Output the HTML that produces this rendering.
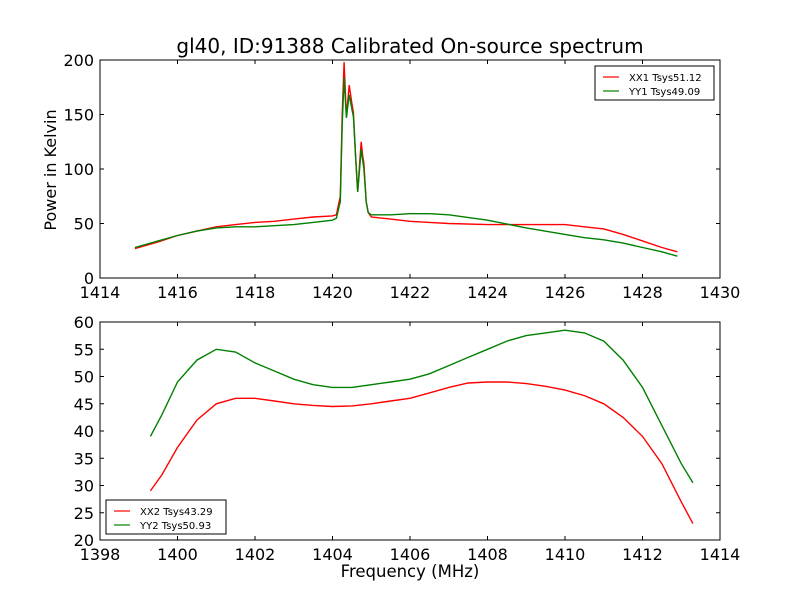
<!DOCTYPE html>
<html><head><meta charset="utf-8"><style>
body{margin:0;background:#fff;}
svg{font-family:"DejaVu Sans","Liberation Sans",sans-serif;}
</style></head><body>
<svg id="chart" width="800" height="600" xmlns="http://www.w3.org/2000/svg">
<rect width="800" height="600" fill="#fff"/>
<text x="410" y="53" font-size="20" text-anchor="middle">gl40, ID:91388 Calibrated On-source spectrum</text>
<text x="56" y="170" font-size="16" text-anchor="middle" transform="rotate(-90 56 170)">Power in Kelvin</text>
<text x="410" y="577" font-size="16.5" text-anchor="middle">Frequency (MHz)</text>
<g id="top"></g><g id="bot"></g>
</svg>
<script>
const topX=[1414.9,1415.5,1416,1416.5,1417,1417.5,1418,1418.5,1419,1419.5,1420,1420.1,1420.2,1420.25,1420.3,1420.36,1420.43,1420.5,1420.54,1420.6,1420.65,1420.7,1420.74,1420.78,1420.81,1420.87,1420.92,1421,1421.5,1422,1422.5,1423,1424,1425,1426,1426.5,1427,1427.5,1428,1428.5,1428.9];
const xx1=[27,33,39,43,47,49,51,52,54,56,57,58,75,150,198,148,177,160,152,110,79,105,125,112,105,70,60,56,54,52,51,50,49,49,49,47,45,40,34,28,24];
const yy1=[28,34,39,43,46,47,47,48,49,51,53,55,70,140,184,147,168,155,148,110,79,100,118,108,100,70,60,58,58,59,59,58,53,46,40,37,35,32,28,24,20];
const botX=[1399.3,1399.6,1400,1400.5,1401,1401.5,1402,1402.5,1403,1403.5,1404,1404.5,1405,1405.5,1406,1406.5,1407,1407.5,1408,1408.5,1409,1409.5,1410,1410.5,1411,1411.5,1412,1412.5,1413,1413.3];
const xx2=[29,32,37,42,45,46,46,45.5,45,44.7,44.5,44.6,45,45.5,46,47,48,48.8,49,49,48.7,48.2,47.5,46.5,45,42.5,39,34,27,23];
const yy2=[39,43,49,53,55,54.5,52.5,51,49.5,48.5,48,48,48.5,49,49.5,50.5,52,53.5,55,56.5,57.5,58,58.5,58,56.5,53,48,41,34,30.5];
const topXTicks=[1414,1416,1418,1420,1422,1424,1426,1428,1430];
const topYTicks=[0,50,100,150,200];
const botXTicks=[1398,1400,1402,1404,1406,1408,1410,1412,1414];
const botYTicks=[20,25,30,35,40,45,50,55,60];
const NS="http://www.w3.org/2000/svg";
function mk(p,t,a){const e=document.createElementNS(NS,t);for(const k in a)e.setAttribute(k,a[k]);p.appendChild(e);return e;}
function panel(g,box,xd,yd,xt,yt,series,leg,name){
 const sx=v=>box.x+(v-xd[0])/(xd[1]-xd[0])*box.w;
 const sy=v=>box.y+box.h-(v-yd[0])/(yd[1]-yd[0])*box.h;
 series.forEach(s=>{
  const pl=mk(g,'polyline',{points:s.ys.map((v,i)=>sx(s.xs[i]).toFixed(1)+','+sy(v).toFixed(1)).join(' '),fill:'none',stroke:s.c,'stroke-width':1.4});
  
  
 });
 const fr=mk(g,'rect',{x:box.x,y:box.y,width:box.w,height:box.h,fill:'none',stroke:'#000','stroke-width':1});
 
 
 xt.forEach(v=>{const X=sx(v);
  mk(g,'line',{x1:X,x2:X,y1:box.y+box.h,y2:box.y+box.h-4,stroke:'#000'});
  mk(g,'line',{x1:X,x2:X,y1:box.y,y2:box.y+4,stroke:'#000'});
  const t=mk(g,'text',{x:X,y:box.y+box.h+20,'font-size':16,'text-anchor':'middle'});t.textContent=v;
  
  });
 yt.forEach(v=>{const Y=sy(v);
  mk(g,'line',{x1:box.x,x2:box.x+4,y1:Y,y2:Y,stroke:'#000'});
  mk(g,'line',{x1:box.x+box.w,x2:box.x+box.w-4,y1:Y,y2:Y,stroke:'#000'});
  const t=mk(g,'text',{x:box.x-6,y:Y+6,'font-size':16,'text-anchor':'end'});t.textContent=v;
  
  });
 const lg=mk(g,'g',{});
 
 
 mk(lg,'rect',{x:leg.x,y:leg.y,width:leg.w,height:34,fill:'#fff',stroke:'#000'});
 series.forEach((s,i)=>{const Y=leg.y+11+i*14;
  mk(lg,'line',{x1:leg.x+8,x2:leg.x+24,y1:Y,y2:Y,stroke:s.c,'stroke-width':1.2});
  const t=mk(lg,'text',{x:leg.x+34,y:Y+4,'font-size':10});t.textContent=s.label;
  
  });
}
panel(document.getElementById('top'),{x:100,y:60,w:620,h:218},[1414,1430],[0,200],topXTicks,topYTicks,
 [{xs:topX,ys:xx1,c:'#ff0000',name:'xx1',label:'XX1 Tsys51.12'},{xs:topX,ys:yy1,c:'#008000',name:'yy1',label:'YY1 Tsys49.09'}],{x:595,y:66,w:119},'top');
panel(document.getElementById('bot'),{x:100,y:322,w:620,h:218},[1398,1414],[20,60],botXTicks,botYTicks,
 [{xs:botX,ys:xx2,c:'#ff0000',name:'xx2',label:'XX2 Tsys43.29'},{xs:botX,ys:yy2,c:'#008000',name:'yy2',label:'YY2 Tsys50.93'}],{x:106,y:500,w:120},'bottom');
</script>
</body></html>
